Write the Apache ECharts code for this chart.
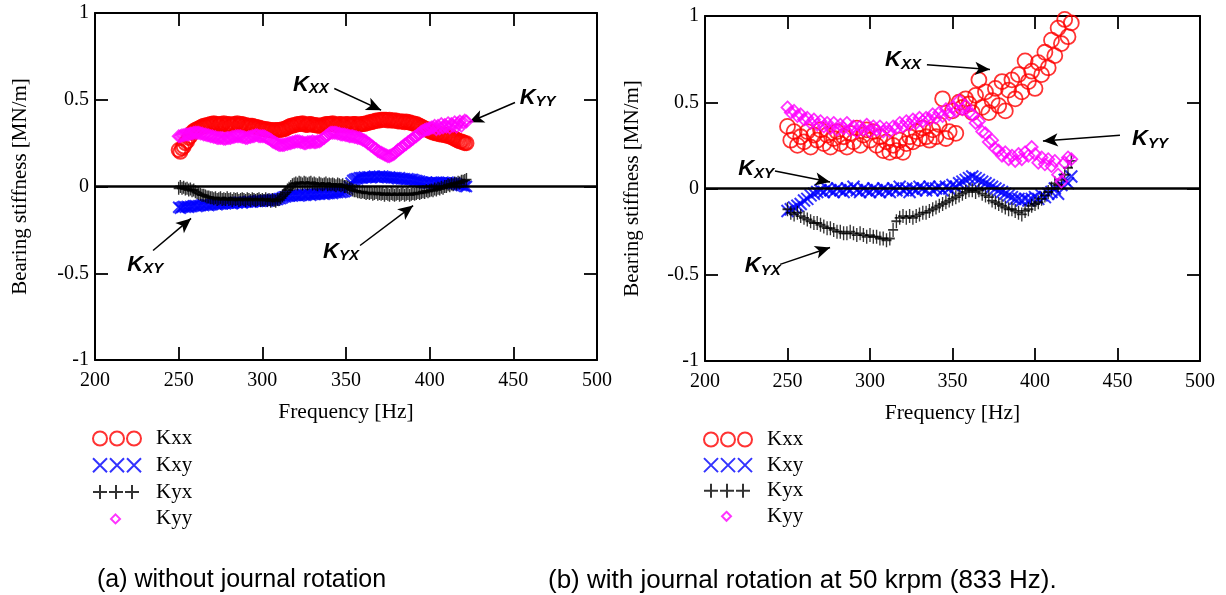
<!DOCTYPE html>
<html><head><meta charset="utf-8">
<script src="https://cdn.jsdelivr.net/npm/echarts@6/dist/echarts.min.js"></script>
<style>html,body{margin:0;padding:0;background:#fff}#c{width:1226px;height:595px}</style>
</head><body><div id="c"></div>
<script>
// ---------- data ----------
// (a) without journal rotation: frequency samples every 1 Hz
const freqA = [250,251,252,253,254,255,256,257,258,259,260,261,262,263,264,265,266,267,268,269,
  270,271,272,273,274,275,276,277,278,279,280,281,282,283,284,285,286,287,288,289,
  290,291,292,293,294,295,296,297,298,299,300,301,302,303,304,305,306,307,308,309,
  310,311,312,313,314,315,316,317,318,319,320,321,322,323,324,325,326,327,328,329,
  330,331,332,333,334,335,336,337,338,339,340,341,342,343,344,345,346,347,348,349,
  350,351,352,353,354,355,356,357,358,359,360,361,362,363,364,365,366,367,368,369,
  370,371,372,373,374,375,376,377,378,379,380,381,382,383,384,385,386,387,388,389,
  390,391,392,393,394,395,396,397,398,399,400,401,402,403,404,405,406,407,408,409,
  410,411,412,413,414,415,416,417,418,419,420,421,422];
const aKxx = [0.21,0.20,0.22,0.23,0.25,0.26,0.28,0.29,0.31,0.32,
  0.325,0.33,0.335,0.34,0.345,0.35,0.35,0.355,0.355,0.36,
  0.36,0.365,0.36,0.36,0.355,0.36,0.36,0.365,0.355,0.36,
  0.36,0.355,0.355,0.36,0.36,0.365,0.355,0.36,0.36,0.355,
  0.355,0.35,0.35,0.35,0.35,0.345,0.345,0.34,0.34,0.335,
  0.335,0.33,0.33,0.33,0.325,0.325,0.325,0.32,0.325,0.325,
  0.325,0.325,0.33,0.33,0.335,0.34,0.345,0.35,0.35,0.355,
  0.355,0.36,0.36,0.36,0.365,0.36,0.355,0.355,0.36,0.36,
  0.355,0.355,0.355,0.35,0.35,0.35,0.355,0.355,0.36,0.36,
  0.36,0.36,0.365,0.36,0.355,0.355,0.36,0.36,0.355,0.355,
  0.36,0.36,0.355,0.355,0.36,0.36,0.36,0.355,0.355,0.36,
  0.36,0.36,0.365,0.365,0.37,0.37,0.375,0.375,0.38,0.38,
  0.38,0.385,0.385,0.385,0.385,0.38,0.385,0.38,0.38,0.38,
  0.38,0.375,0.375,0.375,0.375,0.37,0.375,0.37,0.37,0.365,
  0.365,0.36,0.36,0.355,0.35,0.345,0.34,0.335,0.33,0.325,
  0.32,0.315,0.31,0.31,0.305,0.305,0.30,0.30,0.30,0.295,
  0.295,0.29,0.29,0.285,0.28,0.275,0.27,0.265,0.26,0.26,
  0.255,0.25,0.25];
const aKxy = [-0.12,-0.125,-0.12,-0.115,-0.12,-0.115,-0.12,-0.115,-0.115,-0.11,
  -0.11,-0.115,-0.11,-0.11,-0.105,-0.11,-0.105,-0.105,-0.11,-0.105,
  -0.105,-0.10,-0.10,-0.105,-0.10,-0.10,-0.10,-0.095,-0.10,-0.095,
  -0.095,-0.095,-0.10,-0.095,-0.09,-0.095,-0.09,-0.09,-0.095,-0.09,
  -0.09,-0.09,-0.085,-0.09,-0.09,-0.085,-0.085,-0.085,-0.08,-0.085,
  -0.085,-0.08,-0.08,-0.085,-0.08,-0.08,-0.075,-0.08,-0.075,-0.075,
  -0.07,-0.07,-0.065,-0.06,-0.06,-0.055,-0.055,-0.05,-0.055,-0.05,
  -0.05,-0.05,-0.055,-0.05,-0.045,-0.05,-0.05,-0.045,-0.045,-0.05,
  -0.045,-0.045,-0.045,-0.04,-0.045,-0.04,-0.04,-0.045,-0.04,-0.04,
  -0.04,-0.035,-0.04,-0.035,-0.035,-0.035,-0.03,-0.035,-0.03,-0.03,
  -0.025,-0.015,0.0,0.02,0.035,0.04,0.045,0.045,0.05,0.05,
  0.05,0.055,0.05,0.055,0.055,0.05,0.055,0.06,0.055,0.055,
  0.06,0.055,0.06,0.055,0.055,0.05,0.055,0.05,0.05,0.05,
  0.05,0.045,0.05,0.045,0.045,0.045,0.04,0.045,0.04,0.04,
  0.04,0.035,0.035,0.03,0.03,0.025,0.025,0.02,0.025,0.02,
  0.02,0.025,0.02,0.02,0.025,0.02,0.02,0.02,0.025,0.02,
  0.02,0.025,0.02,0.02,0.015,0.02,0.015,0.01,0.01,0.005,
  0.005,0.0,0.0];
const aKyx = [-0.01,0.0,-0.01,-0.005,-0.015,-0.01,-0.02,-0.015,-0.025,-0.02,
  -0.03,-0.035,-0.04,-0.045,-0.05,-0.05,-0.055,-0.06,-0.06,-0.065,
  -0.065,-0.07,-0.065,-0.075,-0.07,-0.065,-0.075,-0.07,-0.075,-0.065,
  -0.075,-0.07,-0.08,-0.07,-0.075,-0.07,-0.08,-0.075,-0.07,-0.075,
  -0.08,-0.07,-0.075,-0.08,-0.07,-0.075,-0.08,-0.075,-0.07,-0.08,
  -0.075,-0.08,-0.07,-0.08,-0.075,-0.085,-0.075,-0.08,-0.085,-0.075,
  -0.075,-0.065,-0.055,-0.045,-0.035,-0.02,-0.01,0.0,0.01,0.015,
  0.02,0.015,0.025,0.02,0.015,0.025,0.02,0.015,0.02,0.025,
  0.015,0.02,0.015,0.01,0.02,0.015,0.01,0.015,0.02,0.01,
  0.015,0.01,0.015,0.01,0.005,0.015,0.01,0.005,0.01,0.0,
  0.0,-0.005,-0.01,-0.015,-0.02,-0.025,-0.025,-0.03,-0.03,-0.035,
  -0.03,-0.035,-0.04,-0.035,-0.04,-0.035,-0.045,-0.04,-0.035,-0.045,
  -0.04,-0.045,-0.04,-0.05,-0.04,-0.045,-0.05,-0.04,-0.045,-0.05,
  -0.045,-0.04,-0.05,-0.045,-0.04,-0.05,-0.045,-0.04,-0.05,-0.045,
  -0.04,-0.045,-0.04,-0.035,-0.04,-0.035,-0.03,-0.035,-0.025,-0.03,
  -0.025,-0.02,-0.025,-0.015,-0.02,-0.01,-0.015,-0.005,-0.01,0.0,
  0.0,0.01,0.005,0.015,0.01,0.02,0.015,0.025,0.02,0.03,
  0.03,0.035,0.04];
const aKyy = [0.29,0.29,0.295,0.295,0.30,0.30,0.30,0.305,0.305,0.31,
  0.31,0.31,0.31,0.305,0.305,0.30,0.30,0.295,0.295,0.29,
  0.29,0.285,0.285,0.28,0.28,0.28,0.28,0.275,0.275,0.28,
  0.28,0.28,0.285,0.285,0.29,0.29,0.29,0.29,0.285,0.285,
  0.28,0.28,0.285,0.285,0.29,0.29,0.295,0.295,0.29,0.29,
  0.29,0.29,0.285,0.28,0.275,0.27,0.26,0.255,0.25,0.245,
  0.24,0.24,0.24,0.24,0.245,0.245,0.25,0.25,0.255,0.255,
  0.26,0.26,0.26,0.255,0.255,0.25,0.25,0.255,0.255,0.255,
  0.26,0.255,0.255,0.26,0.26,0.265,0.275,0.28,0.29,0.295,
  0.305,0.31,0.31,0.31,0.31,0.305,0.305,0.30,0.30,0.30,
  0.295,0.295,0.29,0.29,0.29,0.285,0.285,0.28,0.28,0.275,
  0.27,0.265,0.26,0.25,0.245,0.235,0.23,0.22,0.215,0.205,
  0.20,0.195,0.19,0.185,0.18,0.175,0.175,0.18,0.185,0.19,
  0.20,0.21,0.215,0.225,0.23,0.24,0.245,0.255,0.26,0.27,
  0.275,0.285,0.29,0.30,0.305,0.315,0.32,0.325,0.33,0.33,
  0.335,0.34,0.34,0.35,0.33,0.35,0.335,0.36,0.34,0.355,
  0.345,0.365,0.34,0.36,0.35,0.37,0.345,0.365,0.375,0.35,
  0.37,0.38,0.375];

// (b) with journal rotation at 50 krpm: frequency samples every 2 Hz
const freqB = [250,252,254,256,258,260,262,264,266,268,270,272,274,276,278,280,282,284,286,288,290,292,294,296,298,300,302,304,306,308,310,312,314,316,318,320,322,324,326,328,330,332,334,336,338,340,342,344,346,348,350,352,354,356,358,360,362,364,366,368,370,372,374,376,378,380,382,384,386,388,390,392,394,396,398,400,402,404,406,408,410,412,414,416,418,420,422];
const bKxx = [0.36,0.28,0.33,0.25,0.30,0.27,0.33,0.24,0.31,0.28,
  0.34,0.26,0.31,0.24,0.29,0.33,0.26,0.30,0.24,0.32,
  0.27,0.35,0.25,0.31,0.34,0.28,0.33,0.25,0.30,0.22,
  0.27,0.21,0.25,0.22,0.28,0.21,0.26,0.30,0.27,0.33,
  0.29,0.35,0.30,0.28,0.34,0.30,0.37,0.52,0.29,0.33,
  0.45,0.32,0.50,0.47,0.52,0.49,0.44,0.54,0.63,0.47,
  0.56,0.44,0.51,0.58,0.48,0.62,0.45,0.57,0.63,0.52,
  0.66,0.56,0.74,0.62,0.68,0.58,0.73,0.66,0.79,0.70,
  0.86,0.77,0.93,0.84,0.98,0.88,0.96];
const bKxy = [-0.13,-0.12,-0.11,-0.10,-0.09,-0.07,-0.06,-0.04,-0.03,-0.02,
  -0.01,-0.02,0.00,-0.01,-0.02,0.00,-0.01,-0.02,0.00,-0.01,
  0.01,-0.01,-0.02,0.00,-0.01,-0.02,0.00,-0.01,-0.02,0.00,
  -0.01,-0.02,0.00,-0.01,0.01,-0.01,0.00,-0.02,0.00,-0.01,
  0.01,0.00,-0.01,0.01,-0.01,0.00,0.01,-0.01,0.01,0.00,
  0.02,0.01,0.03,0.04,0.05,0.06,0.07,0.06,0.05,0.04,
  0.03,0.02,0.01,0.00,-0.01,-0.02,-0.03,-0.04,-0.05,-0.06,
  -0.06,-0.07,-0.06,-0.07,-0.06,-0.05,-0.06,-0.04,-0.05,-0.03,
  -0.02,0.00,-0.03,0.02,0.05,0.03,0.07];
const bKyx = [-0.12,-0.14,-0.15,-0.14,-0.16,-0.17,-0.18,-0.19,-0.20,-0.20,
  -0.21,-0.22,-0.23,-0.23,-0.24,-0.25,-0.25,-0.26,-0.26,-0.25,
  -0.26,-0.27,-0.26,-0.27,-0.28,-0.27,-0.28,-0.28,-0.29,-0.29,
  -0.30,-0.29,-0.24,-0.19,-0.17,-0.16,-0.17,-0.16,-0.17,-0.16,
  -0.15,-0.14,-0.14,-0.13,-0.12,-0.11,-0.10,-0.09,-0.08,-0.07,
  -0.06,-0.05,-0.04,-0.03,-0.02,-0.01,-0.01,-0.02,-0.01,-0.03,
  -0.04,-0.05,-0.07,-0.08,-0.09,-0.10,-0.11,-0.12,-0.12,-0.13,
  -0.14,-0.15,-0.13,-0.12,-0.10,-0.09,-0.08,-0.06,-0.04,-0.02,
  0.00,0.03,0.02,0.05,0.08,0.12,0.16];
const bKyy = [0.47,0.44,0.45,0.42,0.43,0.40,0.41,0.38,0.40,0.37,
  0.39,0.36,0.38,0.35,0.38,0.34,0.37,0.35,0.38,0.34,
  0.36,0.33,0.36,0.34,0.37,0.33,0.36,0.34,0.36,0.33,
  0.35,0.33,0.36,0.35,0.38,0.36,0.39,0.37,0.40,0.38,
  0.41,0.39,0.41,0.40,0.43,0.41,0.44,0.42,0.46,0.43,
  0.47,0.45,0.51,0.46,0.48,0.44,0.43,0.38,0.39,0.33,
  0.32,0.27,0.28,0.23,0.22,0.19,0.21,0.17,0.19,0.16,
  0.20,0.17,0.21,0.19,0.24,0.20,0.15,0.18,0.14,0.17,
  0.13,0.16,0.08,0.04,0.15,0.18,0.17];

const seriesNames = ['Kxx','Kxy','Kyx','Kyy'];
const xTicks = {min:200, max:500, interval:50};
const yTicks = {min:-1, max:1, interval:0.5};
const captions = ['(a) without journal rotation', '(b) with journal rotation at 50 krpm (833 Hz).'];

// annotation labels [subscript, freq, value] and arrows [[f1,v1],[f2,v2]]
const aLabels = [['XX',329,0.588],['YY',464.5,0.513],['XY',230,-0.45],['YX',347,-0.375]];
const aArrows = [[[343,0.565],[371,0.44]],[[451,0.484],[423.5,0.37]],[[234.7,-0.369],[257.4,-0.184]],[[358.4,-0.34],[390.1,-0.11]]];
const bLabels = [['XX',320,0.745],['XY',231,0.112],['YX',235,-0.451],['YY',469.7,0.286]];
const bArrows = [[[334.5,0.717],[372.7,0.69]],[[242.4,0.102],[275.8,0.038]],[[245.5,-0.44],[275.8,-0.342]],[[451.5,0.309],[404.8,0.276]]];

// ---------- styling ----------
const SERIF = 'Liberation Serif';
const SANS = 'Liberation Sans';
const COLORS = {Kxx:'#ff0000', Kxy:'#0000ff', Kyx:'#000000', Kyy:'#ff00ff'};
const SYMBOLS = [
  { // chart (a)
    Kxx:{symbol:'circle', size:14, bw:2},
    Kxy:{symbol:'path://M0 0L10 10M10 0L0 10', size:[11,11], bw:2},
    Kyx:{symbol:'path://M5 0L5 10M0 5L10 5', size:[10,13], bw:1.6},
    Kyy:{symbol:'diamond', size:12, bw:1.8}
  },
  { // chart (b)
    Kxx:{symbol:'circle', size:15, bw:1.8},
    Kxy:{symbol:'path://M0 0L10 10M10 0L0 10', size:[12,12], bw:2},
    Kyx:{symbol:'path://M5 0L5 10M0 5L10 5', size:[10,14], bw:1.6},
    Kyy:{symbol:'diamond', size:12, bw:1.8}
  }
];
const CORNERS = 'M0 0L0 0M59 16L59 16';
const LEGEND_ICONS = {
  Kxx:'path://' + CORNERS + 'M1 8A7 7 0 1 1 15 8A7 7 0 1 1 1 8ZM18 8A7 7 0 1 1 32 8A7 7 0 1 1 18 8ZM35 8A7 7 0 1 1 49 8A7 7 0 1 1 35 8Z',
  Kxy:'path://' + CORNERS + 'M1 1L15 15M15 1L1 15M18 1L32 15M32 1L18 15M35 1L49 15M49 1L35 15',
  Kyx:'path://' + CORNERS + 'M1 8L15 8M8 1L8 15M17 8L31 8M24 1L24 15M33 8L47 8M40 1L40 15',
  Kyy:'path://' + CORNERS + 'M23.5 3.5L28 8L23.5 12.5L19 8Z'
};

const grids = [
  {left:95, top:13, width:502, height:347},
  {left:705, top:16, width:495, height:345}
];

const axisLineStyle = {color:'#000', width:2};
const tickStyle = {inside:true, length:13, lineStyle:{color:'#000', width:1.8}};

const xAxis = [], yAxis = [];
grids.forEach((g, gi) => {
  xAxis.push({gridIndex:gi, type:'value', ...xTicks, position:'bottom',
    name:'Frequency [Hz]', nameLocation:'middle', nameGap:41,
    nameTextStyle:{fontFamily:SERIF, fontSize:21.5, color:'#000'},
    axisLine:{onZero:false, lineStyle:axisLineStyle}, axisTick:tickStyle,
    axisLabel:{fontFamily:SERIF, fontSize:20, color:'#000', margin:11},
    splitLine:{show:false}});
  xAxis.push({gridIndex:gi, type:'value', ...xTicks, position:'top',
    axisLine:{onZero:false, lineStyle:axisLineStyle}, axisTick:tickStyle,
    axisLabel:{show:false}, splitLine:{show:false}});
  yAxis.push({gridIndex:gi, type:'value', ...yTicks, position:'left',
    name:'Bearing stiffness [MN/m]', nameLocation:'middle', nameGap: gi === 0 ? 64 : 62, nameRotate:90,
    nameTextStyle:{fontFamily:SERIF, fontSize:21, color:'#000'},
    axisLine:{onZero:false, lineStyle:axisLineStyle}, axisTick:tickStyle,
    axisLabel:{fontFamily:SERIF, fontSize:20, color:'#000', margin:6},
    splitLine:{show:false}});
  yAxis.push({gridIndex:gi, type:'value', ...yTicks, position:'right',
    axisLine:{onZero:false, lineStyle:axisLineStyle}, axisTick:tickStyle,
    axisLabel:{show:false}, splitLine:{show:false}});
});

function makeSeries(gi, freq, arrays, labels, arrows) {
  return seriesNames.map((name, k) => {
    const s = SYMBOLS[gi][name];
    const ser = {
      name, type:'scatter', xAxisIndex:gi*2, yAxisIndex:gi*2,
      data: freq.map((f, i) => [f, arrays[k][i]]),
      symbol:s.symbol, symbolSize:s.size,
      itemStyle:{color:'rgba(0,0,0,0)', borderColor:COLORS[name], borderWidth:s.bw},
      emphasis:{disabled:true}, silent:true, animation:false, z:2+k
    };
    if (k === 0) {
      ser.markLine = {
        silent:true, animation:false, symbol:['none','none'],
        label:{show:false},
        lineStyle:{color:'#000', width:1.5, type:'solid'},
        data: [
          {yAxis:0, lineStyle:{color:'#000', width:2.5, type:'solid'}},
          ...arrows.map(a => [
            {coord:a[0], symbol:'none'},
            {coord:a[1], symbol:'arrow', symbolSize:[10,15]}
          ])
        ]
      };
      ser.markPoint = {
        silent:true, animation:false, symbol:'rect', symbolSize:1,
        itemStyle:{color:'rgba(0,0,0,0)'},
        label:{show:true, position:'inside',
          formatter: p => '{k|K}{s|' + p.name + '}',
          rich:{
            k:{fontFamily:SANS, fontSize:22, fontWeight:'bold', fontStyle:'italic', color:'#000'},
            s:{fontFamily:SANS, fontSize:15, fontWeight:'bold', fontStyle:'italic', color:'#000', padding:[9,0,0,0]}
          }},
        data: labels.map(l => ({name:l[0], coord:[l[1], l[2]]}))
      };
    }
    return ser;
  });
}

const series = [
  ...makeSeries(0, freqA, [aKxx, aKxy, aKyx, aKyy], aLabels, aArrows),
  ...makeSeries(1, freqB, [bKxx, bKxy, bKyx, bKyy], bLabels, bArrows)
];

function legendData() {
  return seriesNames.map(name => ({
    name, icon: LEGEND_ICONS[name],
    itemStyle:{color:'rgba(0,0,0,0)', borderColor:COLORS[name], borderWidth:2}
  }));
}

const option = {
  backgroundColor:'#fff',
  animation:false,
  title: [
    {text:captions[0], left:97, top:568, padding:0,
      textStyle:{fontFamily:SANS, fontSize:25, fontWeight:'normal', color:'#000'}},
    {text:captions[1], left:548, top:568, padding:0,
      textStyle:{fontFamily:SANS, fontSize:26, fontWeight:'normal', color:'#000'}}
  ],
  legend: [
    {left:91, top:428, orient:'vertical', itemWidth:59, itemHeight:16, itemGap:5.8, padding:0,
      selectedMode:false, data:legendData(),
      textStyle:{fontFamily:SERIF, fontSize:21, color:'#000'}},
    {left:702, top:429, orient:'vertical', itemWidth:59, itemHeight:16, itemGap:4.6, padding:0,
      selectedMode:false, data:legendData(),
      textStyle:{fontFamily:SERIF, fontSize:21, color:'#000'}}
  ],
  grid: grids.map(g => ({...g, containLabel:false, outerBoundsMode:'none'})),
  xAxis, yAxis, series
};

const chart = echarts.init(document.getElementById('c'), null, {renderer:'canvas'});
chart.setOption(option);
</script>
</body></html>
